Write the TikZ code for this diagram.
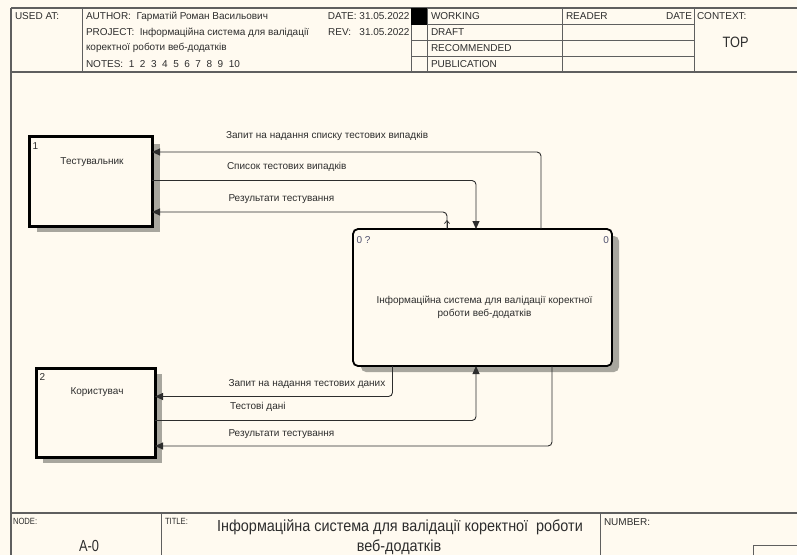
\documentclass[tikz,border=0pt]{standalone}
\usepackage{graphicx}
\usepackage{fontspec}
\setmainfont{Liberation Sans}
\usetikzlibrary{arrows.meta,patterns}

\definecolor{paper}{RGB}{255,250,240}
\definecolor{ink}{RGB}{45,45,45}
\definecolor{rule}{RGB}{95,95,95}
\definecolor{hatchgray}{RGB}{168,166,158}
\definecolor{tag}{RGB}{80,80,110}

\newcommand{\fs}[1]{\fontsize{#1}{#1}\selectfont}

\tikzset{
  frame/.style={draw=rule, line width=1.1pt},
  thin frame/.style={draw=rule, line width=0.8pt},
  txt/.style={font=\fs{10}, text=ink, inner sep=0pt, outer sep=0pt, anchor=west},
  entity/.style={draw=black, line width=3pt, fill=paper, inner sep=0pt, outer sep=0pt},
  func/.style={draw=black, line width=1.8pt, rounded corners=5pt, fill=paper, inner sep=0pt, outer sep=0pt},
  flow/.style={draw=ink, line width=0.9pt, rounded corners=4pt},
  tip/.style={-{Triangle[length=8pt,width=7pt]}},
  caret/.style={-{Straight Barb[length=3pt,width=5pt]}, draw=ink, line width=0.7pt},
  dropshadow/.style={fill=hatchgray},
}

\begin{document}
\begin{tikzpicture}[x=1pt,y=-1pt]
\fill[paper] (0,0) rectangle (797,555);
\useasboundingbox (0,0) rectangle (797,555);

% ---------- header block ----------
\draw[frame] (11,8) -- (797,8);
\draw[frame] (11,72) -- (797,72);
\draw[frame] (11,8) -- (11,555);
\foreach \x in {82,411,427,562,694} \draw[thin frame] (\x,8) -- (\x,72);
\foreach \y in {24.5,40.5,56.5} \draw[thin frame] (411,\y) -- (694,\y);
\fill[black] (411,8) rectangle (427,24.5);

\node[txt] (usedat) at (15,16.5) {USED AT:};
\node[txt] (author) at (86,16.5) {AUTHOR:\ \ Гарматій Роман Васильович};
\node[txt] (project) at (86,32.5) {PROJECT:\ \ Інформаційна система для валідації};
\node[txt] (project2) at (86,47.5) {коректної роботи веб-додатків};
\node[txt] (notes) at (86,64.5) {NOTES:\ \ 1\ \ 2\ \ 3\ \ 4\ \ 5\ \ 6\ \ 7\ \ 8\ \ 9\ \ 10};
\node[txt, anchor=east] (date) at (409.5,16.5) {DATE: 31.05.2022};
\node[txt, anchor=east] (rev) at (409.5,32.5) {REV:\ \ \ 31.05.2022};
\node[txt] (working) at (431,16.5) {WORKING};
\node[txt] (draft) at (431,32.5) {DRAFT};
\node[txt] (recommended) at (431,48.5) {RECOMMENDED};
\node[txt] (publication) at (431,64.5) {PUBLICATION};
\node[txt] (reader) at (566,16.5) {READER};
\node[txt, anchor=east] (rdate) at (692,16.5) {DATE};
\node[txt] (context) at (697,16.5) {CONTEXT:};
\node[txt, anchor=center, font=\fs{15}] (top) at (735.5,42) {\scalebox{0.85}[1]{TOP}};

% ---------- drop shadows ----------
\fill[dropshadow] (37,144) rectangle (160,232);
\fill[dropshadow] (43,374) rectangle (162,463);
\fill[dropshadow, rounded corners=5pt] (361,236) rectangle (619,372);

% ---------- boxes ----------
\node[entity, minimum width=123pt, minimum height=90pt] (tester) at (90.5,181) {};
\node[txt] (tnum) at (32.5,146) {1};
\node[txt, anchor=center] (tname) at (92,162) {Тестувальник};

\node[entity, minimum width=119pt, minimum height=89pt] (user) at (95.5,412.5) {};
\node[txt] (unum) at (39.5,377) {2};
\node[txt, anchor=center] (uname) at (97,392) {Користувач};

\node[func, minimum width=259pt, minimum height=137pt] (sys) at (482.5,297.5) {};
\node[txt, text=tag] (snum) at (356.5,240) {0 ?};
\node[txt, text=tag, anchor=east] (sid) at (609,240) {0};
\node[txt, anchor=center, align=center] (sname) at (484.5,307.5)
  {Інформаційна система для валідації коректної\\[3.5pt]роботи веб-додатків};

% ---------- connectors ----------
\coordinate (k1) at (541,152);
\coordinate (k2) at (476,180.5);
\coordinate (k3) at (447,212);
\coordinate (k4) at (392.5,396.5);
\coordinate (k5) at (476,420.5);
\coordinate (k6) at (552,446);

\draw[flow,tip] (k1 |- sys.north) |- (k1 -| tester.east);
\draw[flow,tip] (k2 -| tester.east) -| (k2 |- sys.north);
\draw[flow,tip] (k3 |- sys.north) |- (k3 -| tester.east);
\draw[caret] ([yshift=1pt]k3 |- sys.north) -- ([yshift=9pt]k3 |- sys.north);

\draw[flow,tip] (k4 |- sys.south) |- (k4 -| user.east);
\draw[flow,tip] (k5 -| user.east) -| (k5 |- sys.south);
\draw[flow,tip] (k6 |- sys.south) |- (k6 -| user.east);

\node[txt] (l1) at (226,136) {Запит на надання списку тестових випадків};
\node[txt] (l2) at (227,166.5) {Список тестових випадків};
\node[txt] (l3) at (228.5,199) {Результати тестування};
\node[txt] (l4) at (228.5,384) {Запит на надання тестових даних};
\node[txt] (l5) at (230,407) {Тестові дані};
\node[txt] (l6) at (228.5,434.5) {Результати тестування};

% ---------- title block ----------
\draw[frame] (11,513) -- (797,513);
\draw[thin frame] (161,513) -- (161,555);
\draw[thin frame] (600,513) -- (600,555);
\draw[thin frame] (753,555) |- (797,545);

\node[txt, font=\fs{9}] (nodelbl) at (13,521.5) {\scalebox{0.85}[1]{NODE:}};
\node[txt, font=\fs{9}] (titlelbl) at (165,521.5) {\scalebox{0.85}[1]{TITLE:}};
\node[txt] (numberlbl) at (604,522.5) {NUMBER:};
\node[txt, anchor=center, font=\fs{16}] (nodeid) at (89,545.5) {\scalebox{0.8}[1]{A-0}};
\node[txt, anchor=center, font=\fs{16}] (title1) at (400,527.5)
  {\scalebox{0.9}[1]{Інформаційна система для валідації коректної\ \ роботи}};
\node[txt, anchor=center, font=\fs{16}] (title2) at (399,547.5)
  {\scalebox{0.9}[1]{веб-додатків}};
\end{tikzpicture}
\end{document}
